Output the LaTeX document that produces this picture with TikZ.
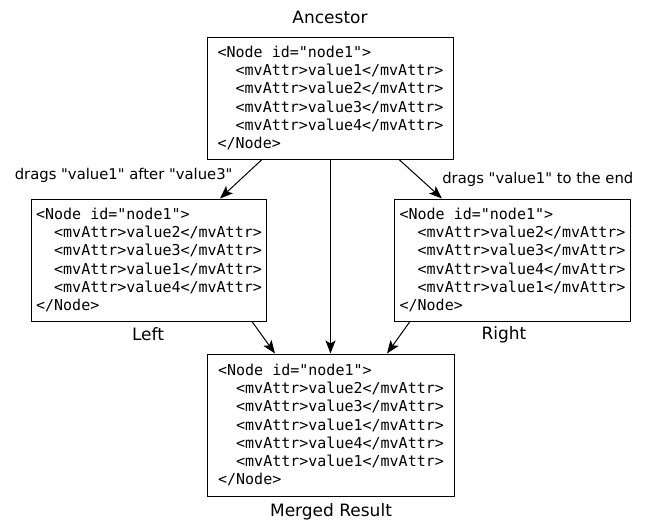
\documentclass[tikz,border=0pt]{standalone}
\usepackage{fontspec}
\setmonofont{DejaVu Sans Mono}
\newfontfamily\labelfont{DejaVu Sans}[Ligatures=TeXOff]
\usetikzlibrary{arrows.meta}

\newcommand{\ind}{\phantom{xx}}

\tikzset{
  codebox/.style={draw, line width=1pt, align=left, inner xsep=10.5pt, inner ysep=0pt,
    minimum height=122pt, font=\ttfamily\fontsize{15}{18.3}\selectfont},
  title/.style={font=\labelfont\fontsize{17}{20}\selectfont},
  flow/.style={line width=1pt, -{Stealth[length=13pt,width=10pt,inset=3pt]}},
  remark/.style={font=\labelfont\fontsize{14.8}{17}\selectfont}
}

\begin{document}
\begin{tikzpicture}[x=1pt,y=-1pt]
\useasboundingbox (0,0) rectangle (645,520);

    \node[title] (ancestorlbl) at (330,17) {Ancestor};
    \node[codebox] (ancestor) at (330.5,98) {<Node id="node1">\\
      \ind<mvAttr>value1</mvAttr>\\
      \ind<mvAttr>value2</mvAttr>\\
      \ind<mvAttr>value3</mvAttr>\\
      \ind<mvAttr>value4</mvAttr>\\
      </Node>};

    \node[codebox, inner xsep=5pt] (left) at (149,260) {<Node id="node1">\\
      \ind<mvAttr>value2</mvAttr>\\
      \ind<mvAttr>value3</mvAttr>\\
      \ind<mvAttr>value1</mvAttr>\\
      \ind<mvAttr>value4</mvAttr>\\
      </Node>};
    \node[title] (leftlbl) at (148,334) {Left};

    \node[codebox, inner xsep=5pt] (right) at (512.5,260) {<Node id="node1">\\
      \ind<mvAttr>value2</mvAttr>\\
      \ind<mvAttr>value3</mvAttr>\\
      \ind<mvAttr>value4</mvAttr>\\
      \ind<mvAttr>value1</mvAttr>\\
      </Node>};
    \node[title] (rightlbl) at (504,335) {Right};

    \node[codebox, minimum height=142pt] (merged) at (331,425) {<Node id="node1">\\
      \ind<mvAttr>value2</mvAttr>\\
      \ind<mvAttr>value3</mvAttr>\\
      \ind<mvAttr>value1</mvAttr>\\
      \ind<mvAttr>value4</mvAttr>\\
      \ind<mvAttr>value1</mvAttr>\\
      </Node>};
    \node[title] (mergedlbl) at (331,512) {Merged Result};

     \draw[flow] ([xshift=-68.5pt]ancestor.south) -- node[remark, pos=0.42, left=8pt] {drags "value1" after "value3"} ([xshift=71pt]left.north);
     \draw[flow] ([xshift=68.5pt]ancestor.south) -- node[remark, pos=0.5, right=18pt] {drags "value1" to the end} ([xshift=-70.5pt]right.north);
     \draw[flow] (ancestor.south) -- (ancestor.south |- merged.north);
     \draw[flow] ([xshift=103pt]left.south) -- ([xshift=-56pt]merged.north);
     \draw[flow] ([xshift=-102.5pt]right.south) -- ([xshift=56pt]merged.north);
\end{tikzpicture}
\end{document}
